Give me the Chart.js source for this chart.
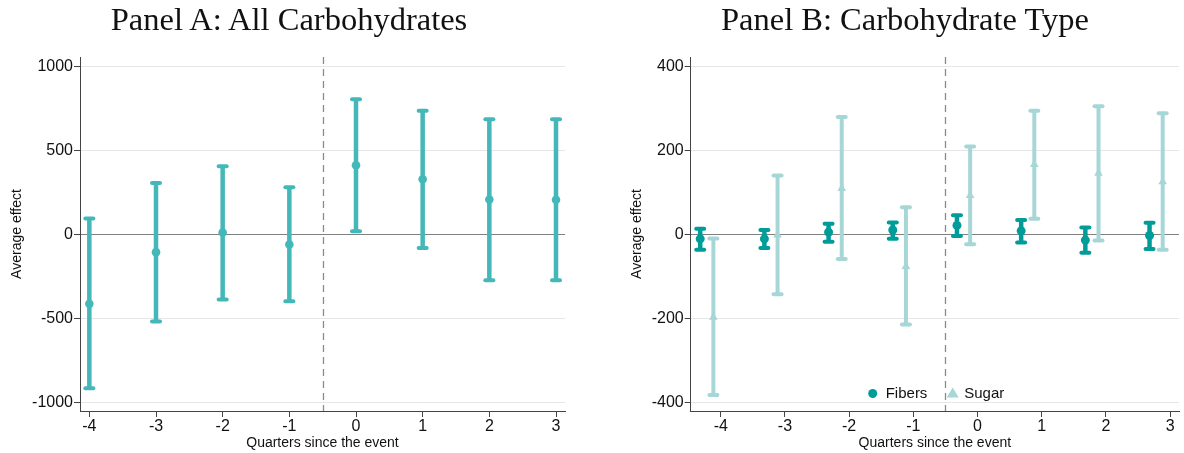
<!DOCTYPE html>
<html>
<head>
<meta charset="utf-8">
<title>Average effect by quarter</title>
<script src="https://cdn.jsdelivr.net/npm/chart.js@4.4.1/dist/chart.umd.min.js"></script>
<style>
  html, body { margin: 0; padding: 0; background: #fff; }
  #wrap { position: relative; width: 1184px; height: 453px; overflow: hidden; }
  .panel { position: absolute; top: 0; width: 592px; height: 453px; }
  .judul { position: absolute; top: 1px; font-family: "Liberation Serif", serif; font-size: 32.5px; color: #111;
           white-space: nowrap; transform: translateX(-50%); }
</style>
</head>
<body>
<div id="wrap">
  <div class="panel" style="left:0"><canvas id="chartA" width="592" height="453"></canvas></div>
  <div class="panel" style="left:592px"><canvas id="chartB" width="592" height="453"></canvas></div>
  <div class="judul" style="left:289px">Panel A: All Carbohydrates</div>
  <div class="judul" style="left:905px">Panel B: Carbohydrate Type</div>
</div>
<script>
// Data dibaca dari gambar referensi
const quarters = [-4, -3, -2, -1, 0, 1, 2, 3];
const xTicks = [-4, -3, -2, -1, 0, 1, 2, 3];

// Panel A: semua karbohidrat
const estAll = [-415, -107, 10, -62, 410, 327, 206, 205];
const loAll  = [-918, -520, -389, -399, 18, -82, -274, -274];
const hiAll  = [93, 305, 405, 280, 803, 735, 684, 684];
const yTicksA = [-1000, -500, 0, 500, 1000];

// Panel B: serat vs gula
const estFibers = [-11, -11, 5, 10, 21, 8, -14, -3];
const loFibers  = [-37, -33, -18, -11, -4, -20, -44, -35];
const hiFibers  = [13, 10, 25, 28, 45, 34, 16, 27];
const estSugar  = [-198, -2, 109, -77, 92, 166, 145, 125];
const loSugar   = [-383, -143, -59, -215, -24, 37, -15, -37];
const hiSugar   = [-10, 140, 279, 64, 209, 294, 305, 288];
const yTicksB = [-400, -200, 0, 200, 400];

const shiftFibers = -0.32;
const shiftSugar = -0.115;

const colAll = '#44b8b9';
const colFibers = '#009c99';
const colSugar = '#a7d6d7';

// Garis putus-putus dan whisker digambar sebelum titik
const errorBars = {
    id: 'errorBars',
    beforeDatasetsDraw(chart) {
        const { ctx, chartArea, scales: { x, y } } = chart;
        ctx.save();
        // garis vertikal pada -0.5
        const xd = Math.round(x.getPixelForValue(-0.5)) + 0.5;
        ctx.strokeStyle = '#8a8a8a';
        ctx.lineWidth = 1.3;
        ctx.setLineDash([7, 5]);
        ctx.beginPath();
        ctx.moveTo(xd, chartArea.top);
        ctx.lineTo(xd, chartArea.bottom);
        ctx.stroke();
        ctx.setLineDash([]);

        chart.data.datasets.forEach(ds => {
            if (!ds.errLo) return;
            ctx.strokeStyle = ds.backgroundColor;
            ds.data.forEach((pt, i) => {
                const px = x.getPixelForValue(pt.x);
                const pLo = y.getPixelForValue(ds.errLo[i]);
                const pHi = y.getPixelForValue(ds.errHi[i]);
                ctx.lineCap = 'butt';
                ctx.lineWidth = ds.barWidth;
                ctx.beginPath();
                ctx.moveTo(px, pLo);
                ctx.lineTo(px, pHi);
                ctx.stroke();
                ctx.lineCap = 'round';
                ctx.lineWidth = 4;
                [pLo, pHi].forEach(py => {
                    ctx.beginPath();
                    ctx.moveTo(px - 4, py);
                    ctx.lineTo(px + 4, py);
                    ctx.stroke();
                });
            });
        });
        ctx.restore();
    }
};

// Legenda kecil di dalam area plot panel B
const legendB = {
    id: 'legendB',
    afterDraw(chart) {
        const { ctx, chartArea } = chart;
        const yy = chartArea.bottom - 17.5;
        const x0 = chartArea.left + 182;
        ctx.save();
        ctx.fillStyle = colFibers;
        ctx.beginPath();
        ctx.arc(x0, yy, 4.5, 0, Math.PI * 2);
        ctx.fill();
        ctx.fillStyle = colSugar;
        ctx.beginPath();
        ctx.moveTo(x0 + 80, yy - 6);
        ctx.lineTo(x0 + 86, yy + 4);
        ctx.lineTo(x0 + 74, yy + 4);
        ctx.closePath();
        ctx.fill();
        ctx.fillStyle = '#111';
        ctx.font = '15px "Liberation Sans", Arial, sans-serif';
        ctx.textBaseline = 'middle';
        ctx.fillText('Fibers', x0 + 13, yy);
        ctx.fillText('Sugar', x0 + 91.5, yy);
        ctx.restore();
    }
};

function makeScales(xMin, xMax, yMin, yMax, yTicks, yWidth) {
    const tickFont = { family: '"Liberation Sans", Arial, sans-serif', size: 16 };
    const titleFont = { family: '"Liberation Sans", Arial, sans-serif', size: 14 };
    return {
        x: {
            type: 'linear', min: xMin, max: xMax,
            afterBuildTicks: s => { s.ticks = xTicks.map(v => ({ value: v })); },
            afterFit: s => { s.height = 42; },
            grid: { drawOnChartArea: false, tickLength: 6, tickColor: '#444' },
            border: { color: '#444', width: 1 },
            ticks: { font: tickFont, color: '#111', padding: 0, maxRotation: 0, callback: v => String(v) },
            title: { display: true, text: 'Quarters since the event', font: titleFont, color: '#111', padding: { top: 0, bottom: 1 } }
        },
        y: {
            min: yMin, max: yMax,
            afterBuildTicks: s => { s.ticks = yTicks.map(v => ({ value: v })); },
            afterFit: s => { s.width = yWidth; },
            grid: {
                tickLength: 6,
                tickColor: '#444',
                color: c => (c.tick && c.tick.value === 0) ? '#808080' : '#e6e6e6',
                lineWidth: 1
            },
            border: { color: '#444', width: 1 },
            ticks: { font: tickFont, color: '#111', padding: 1, callback: v => String(v) },
            title: { display: true, text: 'Average effect', font: titleFont, color: '#111', padding: { top: 9, bottom: 0 } }
        }
    };
}

const baseOptions = {
    responsive: false,
    animation: false,
    plugins: { legend: { display: false }, tooltip: { enabled: false } }
};

new Chart(document.getElementById('chartA'), {
    type: 'scatter',
    plugins: [errorBars],
    data: {
        datasets: [{
            label: 'All',
            data: quarters.map((q, i) => ({ x: q, y: estAll[i] })),
            errLo: loAll, errHi: hiAll, barWidth: 4.5,
            backgroundColor: colAll, borderColor: colAll,
            pointRadius: 4.3, pointBorderWidth: 0
        }]
    },
    options: Object.assign({}, baseOptions, {
        layout: { padding: { top: 57, right: 27, bottom: 0, left: 0 } },
        scales: makeScales(-4.14, 3.135, -1053, 1055, yTicksA, 80)
    })
});

new Chart(document.getElementById('chartB'), {
    type: 'scatter',
    plugins: [errorBars, legendB],
    data: {
        datasets: [{
            label: 'Fibers',
            data: quarters.map((q, i) => ({ x: q + shiftFibers, y: estFibers[i] })),
            errLo: loFibers, errHi: hiFibers, barWidth: 4.5,
            backgroundColor: colFibers, borderColor: colFibers,
            pointRadius: 4.5, pointBorderWidth: 0
        }, {
            label: 'Sugar',
            data: quarters.map((q, i) => ({ x: q + shiftSugar, y: estSugar[i] })),
            errLo: loSugar, errHi: hiSugar, barWidth: 4,
            backgroundColor: colSugar, borderColor: colSugar,
            pointStyle: 'triangle', pointRadius: 5, pointBorderWidth: 0
        }]
    },
    options: Object.assign({}, baseOptions, {
        layout: { padding: { top: 57, right: 1, bottom: 0, left: 28 } },
        scales: makeScales(-4.468, 3.139, -421, 422, yTicksB, 70.7)
    })
});
</script>
</body>
</html>
